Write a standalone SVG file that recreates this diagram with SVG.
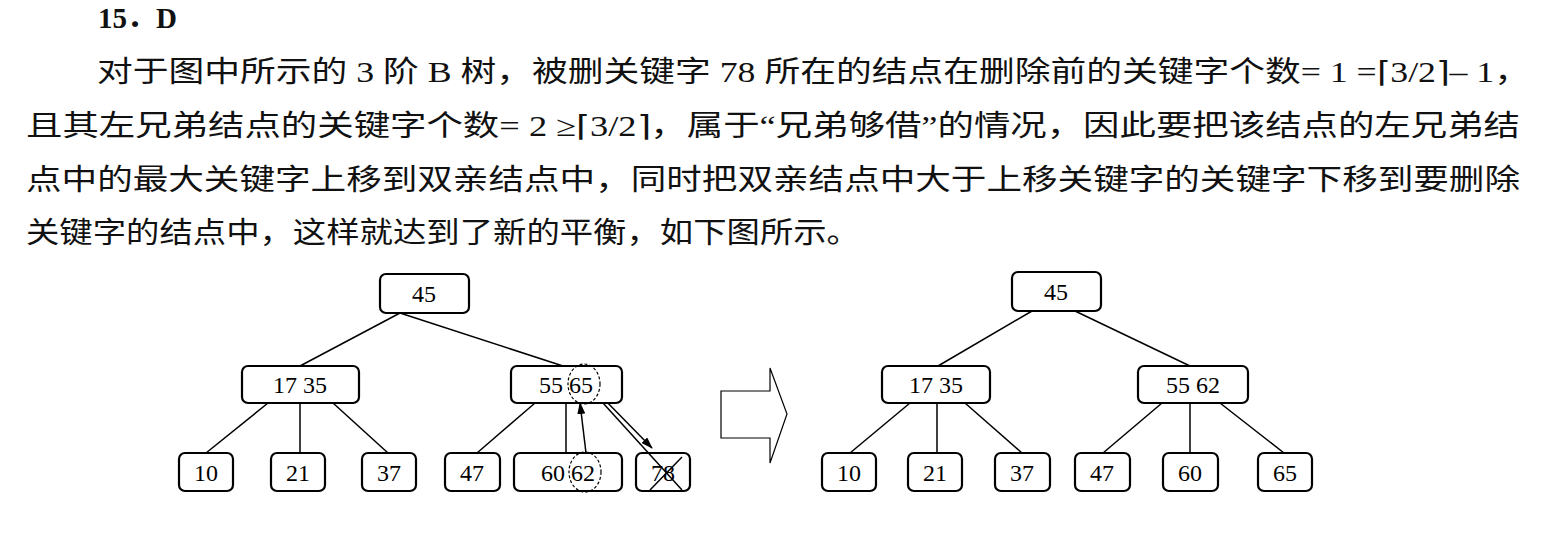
<svg xmlns="http://www.w3.org/2000/svg" width="1550" height="536" viewBox="0 0 1550 536">
<style>
.t{font-family:"Liberation Serif","Noto Sans CJK SC",serif;font-size:29px;fill:#111}
.n rect{fill:#fff;stroke:#000;stroke-width:2.2}
.n text{font-family:"Liberation Serif",serif;font-size:24px;text-anchor:middle;fill:#000}
.e line{stroke:#000;stroke-width:1.5}
.c{fill:none;stroke:#000;stroke-width:1.2;stroke-dasharray:3,2}
</style>
<defs><marker id="ah" markerWidth="12" markerHeight="8" refX="11" refY="4" orient="auto" markerUnits="userSpaceOnUse"><path d="M0,0 L12,4 L0,8 Z" fill="#000"/></marker></defs>
<rect width="1550" height="536" fill="#fff"/>
<text class="t" x="98" y="28" font-weight="bold">15．D</text>
<text class="t" x="97" y="82" textLength="1433" lengthAdjust="spacingAndGlyphs">对于图中所示的 3 阶 B 树，被删关键字 78 所在的结点在删除前的关键字个数= 1 =⌈3/2⌉– 1，</text>
<text class="t" x="26" y="136" textLength="1494" lengthAdjust="spacingAndGlyphs">且其左兄弟结点的关键字个数= 2 ≥⌈3/2⌉，属于“兄弟够借”的情况，因此要把该结点的左兄弟结</text>
<text class="t" x="26" y="190" textLength="1494" lengthAdjust="spacingAndGlyphs">点中的最大关键字上移到双亲结点中，同时把双亲结点中大于上移关键字的关键字下移到要删除</text>
<text class="t" x="26" y="243" textLength="834" lengthAdjust="spacingAndGlyphs">关键字的结点中，这样就达到了新的平衡，如下图所示。</text>
<g id="connectors" class="e">
<line x1="400" y1="313" x2="300" y2="366"/><line x1="400" y1="313" x2="563" y2="366"/>
<line x1="268" y1="403" x2="206" y2="453"/><line x1="300" y1="403" x2="300" y2="453"/><line x1="333" y1="403" x2="388" y2="453"/>
<line x1="535" y1="403" x2="477" y2="453"/><line x1="566" y1="403" x2="566" y2="453"/>
<line x1="598" y1="393" x2="652" y2="448" marker-end="url(#ah)"/>
<line x1="586" y1="453" x2="580" y2="403" marker-end="url(#ah)"/>
<line x1="1032" y1="311" x2="938" y2="366"/><line x1="1075" y1="311" x2="1190" y2="366"/>
<line x1="910" y1="403" x2="850" y2="453"/><line x1="937" y1="403" x2="937" y2="453"/><line x1="965" y1="403" x2="1022" y2="453"/>
<line x1="1162" y1="403" x2="1103" y2="453"/><line x1="1190" y1="403" x2="1190" y2="453"/><line x1="1220" y1="403" x2="1284" y2="453"/>
</g>
<g id="L45" class="n"><rect x="380" y="274" width="89" height="39" rx="6"/><text x="424" y="302">45</text></g>
<g id="L1735" class="n"><rect x="242" y="366" width="117" height="37" rx="6"/><text x="300" y="393">17 35</text></g>
<g id="L5565" class="n"><rect x="511" y="366" width="111" height="37" rx="6"/><text x="566" y="393">55 65</text></g>
<g id="L10" class="n"><rect x="179" y="453" width="54" height="38" rx="6"/><text x="206" y="481">10</text></g>
<g id="L21" class="n"><rect x="271" y="453" width="54" height="38" rx="6"/><text x="298" y="481">21</text></g>
<g id="L37" class="n"><rect x="362" y="453" width="54" height="38" rx="6"/><text x="389" y="481">37</text></g>
<g id="L47" class="n"><rect x="445" y="453" width="55" height="38" rx="6"/><text x="472" y="481">47</text></g>
<g id="L6062" class="n"><rect x="514" y="453" width="108" height="38" rx="6"/><text x="568" y="481">60 62</text></g>
<g id="L78" class="n"><rect x="636" y="453" width="54" height="38" rx="6"/><text x="663" y="481">78</text></g>
<g id="cross" class="e"><line x1="603" y1="403" x2="682" y2="490"/><line x1="650" y1="490" x2="682" y2="457"/></g>
<ellipse class="c" cx="584" cy="384" rx="16" ry="20"/>
<ellipse class="c" cx="585" cy="472" rx="16" ry="20"/>
<path id="bigarrow" d="M721,391 H770 V368 L787,414 L770,463 V438 H721 Z" fill="#fff" stroke="#000" stroke-width="1.2"/>
<g id="R45" class="n"><rect x="1012" y="272" width="89" height="39" rx="6"/><text x="1056" y="300">45</text></g>
<g id="R1735" class="n"><rect x="882" y="366" width="108" height="37" rx="6"/><text x="936" y="393">17 35</text></g>
<g id="R5562" class="n"><rect x="1138" y="366" width="110" height="37" rx="6"/><text x="1193" y="393">55 62</text></g>
<g id="R10" class="n"><rect x="822" y="453" width="54" height="38" rx="6"/><text x="849" y="481">10</text></g>
<g id="R21" class="n"><rect x="908" y="453" width="54" height="38" rx="6"/><text x="935" y="481">21</text></g>
<g id="R37" class="n"><rect x="995" y="453" width="55" height="38" rx="6"/><text x="1022" y="481">37</text></g>
<g id="R47" class="n"><rect x="1075" y="453" width="55" height="38" rx="6"/><text x="1102" y="481">47</text></g>
<g id="R60" class="n"><rect x="1163" y="453" width="55" height="38" rx="6"/><text x="1190" y="481">60</text></g>
<g id="R65" class="n"><rect x="1258" y="453" width="54" height="38" rx="6"/><text x="1285" y="481">65</text></g>
</svg>
